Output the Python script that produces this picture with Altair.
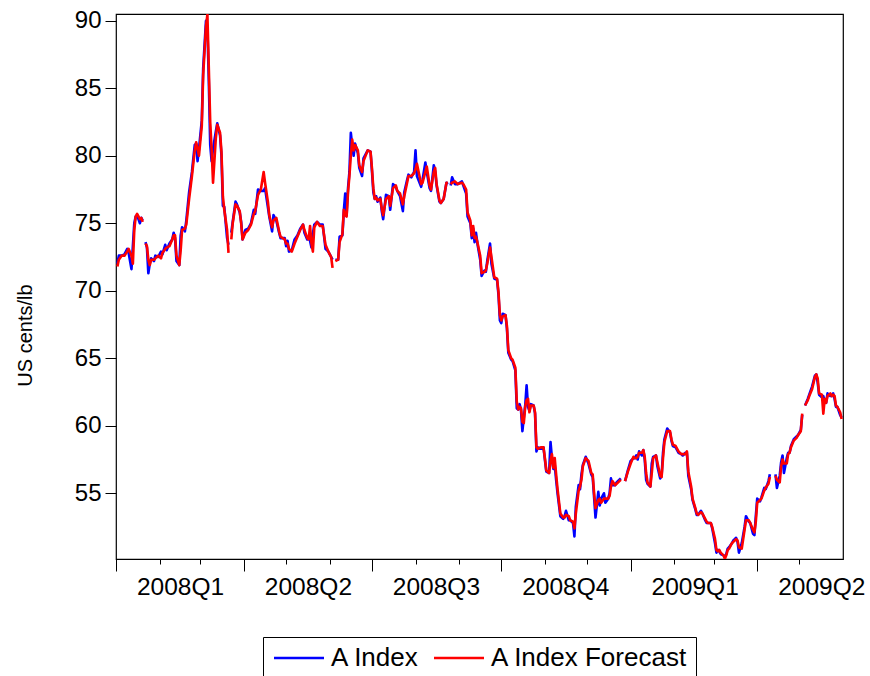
import altair as alt
import pandas as pd

# Cotlook A Index (US cents/lb) and its one-step-ahead forecast, daily quotes
dates = [
    # Jan 2008
    "2008-01-02", "2008-01-03", "2008-01-05", "2008-01-07", "2008-01-09", "2008-01-10", "2008-01-12",
    "2008-01-13", "2008-01-14", "2008-01-15", "2008-01-16", "2008-01-18", "2008-01-19", "2008-01-20",
    # late Jan - Mar 2008
    "2008-01-22", "2008-01-23", "2008-01-24", "2008-01-25", "2008-01-26", "2008-01-28", "2008-01-29",
    "2008-01-31", "2008-02-02", "2008-02-03", "2008-02-05", "2008-02-06", "2008-02-08", "2008-02-10",
    "2008-02-11", "2008-02-12", "2008-02-13", "2008-02-15", "2008-02-16", "2008-02-17", "2008-02-19",
    "2008-02-20", "2008-02-22", "2008-02-24", "2008-02-26", "2008-02-27", "2008-02-28", "2008-02-29",
    "2008-03-02", "2008-03-03", "2008-03-05", "2008-03-06", "2008-03-07", "2008-03-08", "2008-03-09",
    "2008-03-10", "2008-03-12", "2008-03-13", "2008-03-15", "2008-03-16", "2008-03-17", "2008-03-18",
    "2008-03-20", "2008-03-21",
    # late Mar - early Jun 2008
    "2008-03-23", "2008-03-24", "2008-03-26", "2008-03-27", "2008-03-29", "2008-03-30", "2008-03-31",
    "2008-04-02", "2008-04-04", "2008-04-06", "2008-04-08", "2008-04-09", "2008-04-11", "2008-04-13",
    "2008-04-15", "2008-04-16", "2008-04-18", "2008-04-19", "2008-04-21", "2008-04-22", "2008-04-24",
    "2008-04-26", "2008-04-27", "2008-04-30", "2008-05-01", "2008-05-02", "2008-05-03", "2008-05-05",
    "2008-05-07", "2008-05-09", "2008-05-11", "2008-05-13", "2008-05-14", "2008-05-16", "2008-05-17",
    "2008-05-18", "2008-05-19", "2008-05-20", "2008-05-21", "2008-05-23", "2008-05-25", "2008-05-27",
    "2008-05-29", "2008-05-31", "2008-06-02", "2008-06-03",
    # Jun - Aug 2008
    "2008-06-05", "2008-06-07", "2008-06-08", "2008-06-10", "2008-06-11", "2008-06-12", "2008-06-13",
    "2008-06-14", "2008-06-15", "2008-06-16", "2008-06-17", "2008-06-18", "2008-06-19", "2008-06-21",
    "2008-06-22", "2008-06-24", "2008-06-25", "2008-06-28", "2008-06-30", "2008-07-01", "2008-07-02",
    "2008-07-03", "2008-07-04", "2008-07-05", "2008-07-07", "2008-07-08", "2008-07-09", "2008-07-11",
    "2008-07-13", "2008-07-14", "2008-07-16", "2008-07-18", "2008-07-19", "2008-07-21", "2008-07-23",
    "2008-07-24", "2008-07-26", "2008-07-27", "2008-07-29", "2008-07-31", "2008-08-01", "2008-08-02",
    "2008-08-05", "2008-08-06", "2008-08-08", "2008-08-09", "2008-08-11", "2008-08-12", "2008-08-14",
    "2008-08-15", "2008-08-16", "2008-08-18", "2008-08-19", "2008-08-21", "2008-08-23", "2008-08-24",
    # late Aug - Dec 2008
    "2008-08-26", "2008-08-27", "2008-08-29", "2008-08-31", "2008-09-03", "2008-09-04", "2008-09-06",
    "2008-09-07", "2008-09-09", "2008-09-10", "2008-09-11", "2008-09-12", "2008-09-13", "2008-09-14",
    "2008-09-16", "2008-09-17", "2008-09-19", "2008-09-20", "2008-09-21", "2008-09-23", "2008-09-24",
    "2008-09-26", "2008-09-28", "2008-09-29", "2008-09-30", "2008-10-01", "2008-10-02", "2008-10-04",
    "2008-10-05", "2008-10-06", "2008-10-08", "2008-10-09", "2008-10-11", "2008-10-12", "2008-10-13",
    "2008-10-14", "2008-10-15", "2008-10-16", "2008-10-17", "2008-10-18", "2008-10-19", "2008-10-20",
    "2008-10-21", "2008-10-22", "2008-10-24", "2008-10-25", "2008-10-26", "2008-10-27", "2008-10-29",
    "2008-10-31", "2008-11-01", "2008-11-02", "2008-11-04", "2008-11-05", "2008-11-06", "2008-11-07",
    "2008-11-08", "2008-11-09", "2008-11-10", "2008-11-12", "2008-11-14", "2008-11-15", "2008-11-16",
    "2008-11-18", "2008-11-19", "2008-11-21", "2008-11-22", "2008-11-23", "2008-11-25", "2008-11-26",
    "2008-11-27", "2008-11-28", "2008-11-30", "2008-12-02", "2008-12-04", "2008-12-05", "2008-12-06",
    "2008-12-07", "2008-12-09", "2008-12-10", "2008-12-11", "2008-12-13", "2008-12-14", "2008-12-16",
    "2008-12-17", "2008-12-18", "2008-12-19", "2008-12-21", "2008-12-22", "2008-12-24", "2008-12-25",
    # late Dec 2008 - early Apr 2009
    "2008-12-28", "2008-12-30", "2009-01-01", "2009-01-03", "2009-01-04", "2009-01-05", "2009-01-06",
    "2009-01-07", "2009-01-09", "2009-01-10", "2009-01-11", "2009-01-12", "2009-01-13", "2009-01-15",
    "2009-01-16", "2009-01-17", "2009-01-19", "2009-01-20", "2009-01-22", "2009-01-23", "2009-01-24",
    "2009-01-25", "2009-01-27", "2009-01-29", "2009-01-30", "2009-01-31", "2009-02-02", "2009-02-04",
    "2009-02-06", "2009-02-07", "2009-02-09", "2009-02-10", "2009-02-11", "2009-02-13", "2009-02-14",
    "2009-02-16", "2009-02-17", "2009-02-18", "2009-02-20", "2009-02-21", "2009-02-23", "2009-02-24",
    "2009-02-25", "2009-02-27", "2009-02-28", "2009-03-02", "2009-03-03", "2009-03-04", "2009-03-05",
    "2009-03-06", "2009-03-08", "2009-03-09", "2009-03-10", "2009-03-11", "2009-03-12", "2009-03-14",
    "2009-03-15", "2009-03-16", "2009-03-17", "2009-03-18", "2009-03-19", "2009-03-21", "2009-03-23",
    "2009-03-24", "2009-03-26", "2009-03-27", "2009-03-29", "2009-03-30", "2009-03-31", "2009-04-01",
    "2009-04-03", "2009-04-04", "2009-04-06", "2009-04-07", "2009-04-09", "2009-04-10",
    # mid Apr - early May 2009
    "2009-04-14", "2009-04-15", "2009-04-17", "2009-04-18", "2009-04-19", "2009-04-20", "2009-04-22",
    "2009-04-23", "2009-04-24", "2009-04-25", "2009-04-27", "2009-04-29", "2009-04-30", "2009-05-02",
    "2009-05-03",
    # May 2009
    "2009-05-05", "2009-05-07", "2009-05-08", "2009-05-10", "2009-05-12", "2009-05-13", "2009-05-14",
    "2009-05-15", "2009-05-17", "2009-05-18", "2009-05-19", "2009-05-20", "2009-05-21", "2009-05-23",
    "2009-05-24", "2009-05-25", "2009-05-26", "2009-05-27", "2009-05-28", "2009-05-30", "2009-05-31",
]

a_index = [
    72.0, 72.6, 72.6, 72.7, 73.1, 72.8, 71.6, 73.3, 75.0, 75.5, 75.6, 75.0, 75.4, 75.2,
    73.6, 73.2, 71.3, 72.0, 72.4, 72.2, 72.6, 72.5, 72.9, 72.7, 73.4, 73.0, 73.5, 73.8,
    74.3, 73.9, 72.2, 71.9, 74.1, 74.7, 74.4, 75.2, 77.3, 78.8, 80.8, 80.9, 79.6, 80.5,
    82.6, 86.5, 90.0, 89.5, 85.5, 80.8, 79.6, 80.5, 81.8, 82.4, 81.5, 80.0, 76.3, 76.2,
    73.9, 73.4,
    74.3, 75.1, 76.6, 76.4, 75.8, 75.1, 73.8, 74.5, 74.6, 75.0, 76.0, 75.7, 77.5, 77.4,
    77.4, 77.6, 76.2, 75.5, 74.4, 75.6, 75.2, 74.3, 73.9, 73.9, 73.3, 73.7, 72.9, 73.0,
    73.8, 74.1, 74.6, 74.9, 74.3, 73.8, 74.0, 73.7, 73.2, 74.2, 74.9, 75.1, 74.9, 74.9,
    73.1, 72.9, 72.5, 72.3,
    72.3, 72.3, 74.0, 74.1, 75.9, 77.2, 75.6, 77.6, 78.8, 81.7, 80.7, 80.0, 80.9, 80.2,
    79.1, 78.5, 79.8, 80.4, 80.3, 78.9, 77.3, 76.8, 77.0, 76.6, 76.9, 75.9, 75.3, 77.1,
    77.0, 76.0, 77.9, 77.7, 77.4, 77.0, 75.9, 77.3, 78.2, 78.6, 78.4, 78.8, 80.4, 78.5,
    77.7, 78.2, 79.5, 78.8, 77.6, 77.4, 79.3, 78.8, 77.8, 76.6, 76.5, 76.8, 78.0, 77.9,
    77.8, 78.4, 77.9, 77.9, 78.1, 77.8, 77.2, 75.5, 75.0, 73.9,
    74.6, 73.6, 74.3, 73.5, 72.3, 71.1, 71.5, 71.4, 72.2, 73.5,
    72.0, 70.9, 70.8, 69.7, 67.8, 67.6, 68.3, 68.2, 67.2, 65.4,
    64.9, 64.8, 64.1, 61.3, 61.2, 61.6, 61.2, 59.6, 60.6, 61.5,
    63.0, 61.4, 61.1, 61.6, 61.5, 60.9, 58.1, 58.4, 58.3, 58.4,
    57.5, 56.6, 56.5, 58.8, 57.6, 56.8, 57.1, 56.0, 55.0, 53.3,
    53.1, 53.3, 53.7, 53.0, 53.0, 52.8, 51.8, 54.0, 55.6, 55.3,
    56.4, 57.1, 57.7, 57.2, 56.4, 56.2, 54.7, 53.2, 55.1, 54.1,
    54.6, 55.0, 54.3, 54.6, 55.0, 56.1, 55.6, 55.6, 55.8, 56.0, 56.1,
    55.9, 56.7, 57.4, 57.6, 57.6, 57.8, 57.5, 58.1, 57.8, 58.2,
    57.5, 56.0, 55.7, 55.5, 57.2, 57.7, 57.8, 57.0, 56.1, 56.3,
    58.0, 59.0, 59.8, 59.5, 58.9, 58.5, 58.4, 58.0, 57.9, 57.8,
    58.0, 58.0, 56.3, 55.3, 54.5, 53.8, 53.4, 53.4, 53.7, 53.5,
    53.0, 52.8, 52.8, 52.8, 52.4, 51.3, 50.6, 50.8, 50.7, 50.5,
    50.4, 50.3, 50.5, 50.9, 51.0, 51.3, 51.5, 51.6, 51.7, 51.4,
    50.6, 51.3, 52.5, 53.3, 52.9, 52.8, 52.0, 51.9, 53.3, 54.6,
    54.4, 54.7, 55.4, 55.3, 55.9, 56.4,
    56.4, 55.4, 56.3, 57.3, 57.8, 56.5, 57.6, 58.0, 58.0, 58.5, 59.0, 59.2, 59.3, 59.7,
    60.8,
    61.5, 62.0, 62.3, 62.9, 63.7, 63.8, 63.2, 62.3, 62.1, 62.2, 61.8, 61.7, 62.4, 62.2,
    62.2, 62.4, 62.0, 61.4, 61.4, 60.8, 60.6,
]

a_index_forecast = [
    71.8, 72.3, 72.6, 72.6, 72.9, 73.1, 72.6, 72.0, 74.5, 75.5, 75.7, 75.3, 75.4, 75.1,
    73.5, 73.3, 72.3, 71.9, 72.3, 72.3, 72.4, 72.6, 72.4, 72.8, 73.1, 73.2, 73.3, 73.8,
    74.1, 74.1, 72.6, 71.9, 73.0, 74.5, 74.6, 74.9, 76.8, 78.5, 80.4, 81.0, 80.5, 80.0,
    82.2, 86.0, 89.6, 90.45, 86.5, 82.5, 80.5, 78.0, 81.3, 82.3, 81.7, 80.3, 77.0, 76.0,
    74.5, 72.8,
    73.8, 75.0, 76.4, 76.3, 75.9, 75.0, 73.8, 74.3, 74.5, 74.9, 75.7, 75.9, 77.1, 77.5,
    78.8, 78.0, 76.6, 75.6, 74.7, 75.2, 75.4, 74.4, 74.0, 73.8, 73.5, 73.5, 73.1, 72.9,
    73.5, 74.0, 74.5, 74.9, 74.5, 73.9, 73.8, 74.8, 73.5, 72.9, 74.7, 75.1, 74.8, 74.8,
    73.4, 72.9, 72.5, 71.7,
    72.2, 72.3, 73.6, 74.2, 76.0, 75.6, 75.5, 77.3, 78.5, 80.0, 81.2, 80.4, 80.8, 80.4,
    79.3, 78.8, 79.6, 80.4, 80.3, 79.1, 77.6, 76.8, 76.9, 76.7, 76.8, 76.1, 75.6, 76.8,
    77.0, 76.3, 77.6, 77.8, 77.4, 77.2, 76.4, 77.0, 78.0, 78.5, 78.5, 78.7, 79.0, 79.4,
    77.9, 78.0, 78.8, 79.2, 77.8, 77.5, 78.8, 79.1, 77.9, 76.7, 76.5, 76.8, 78.0, 78.0,
    77.9, 78.0, 78.1, 77.9, 78.0, 77.9, 77.5, 75.8, 75.2, 74.1,
    74.8, 73.9, 74.0, 73.6, 72.6, 71.3, 71.4, 71.5, 72.0, 73.2,
    72.5, 71.0, 70.9, 69.9, 68.2, 67.8, 68.1, 68.2, 67.4, 65.6,
    65.0, 64.9, 64.3, 61.8, 61.2, 61.4, 61.3, 60.3, 60.2, 61.4,
    61.9, 62.0, 61.0, 61.5, 61.5, 61.0, 58.4, 58.3, 58.4, 58.4,
    57.6, 56.7, 56.5, 57.4, 57.9, 56.9, 57.6, 56.4, 55.3, 53.5,
    53.2, 53.2, 53.4, 53.3, 53.0, 52.9, 52.4, 53.5, 55.2, 55.5,
    56.0, 57.0, 57.6, 57.4, 56.5, 56.4, 55.0, 53.9, 54.5, 54.6,
    54.3, 54.6, 54.6, 54.6, 54.8, 55.5, 55.9, 55.6, 55.7, 55.9, 56.0,
    55.9, 56.6, 57.2, 57.7, 57.6, 57.6, 57.7, 58.0, 58.0, 58.2,
    57.7, 56.5, 55.8, 55.5, 56.5, 57.6, 57.8, 57.3, 56.3, 56.2,
    57.6, 58.8, 59.6, 59.6, 59.0, 58.6, 58.5, 58.1, 57.9, 57.9,
    57.9, 58.1, 56.6, 55.5, 54.6, 53.9, 53.5, 53.4, 53.6, 53.5,
    53.1, 52.9, 52.8, 52.8, 52.5, 51.6, 50.8, 50.7, 50.8, 50.6,
    50.4, 50.15, 50.4, 50.8, 50.9, 51.3, 51.4, 51.5, 51.6, 51.5,
    51.0, 50.9, 52.3, 53.0, 53.0, 52.8, 52.3, 52.1, 52.9, 54.3,
    54.5, 54.6, 55.2, 55.4, 55.7, 56.2,
    56.3, 56.0, 55.8, 57.0, 57.5, 57.2, 57.2, 57.9, 58.0, 58.4, 58.9, 59.1, 59.3, 59.6,
    60.9,
    61.5, 61.9, 62.2, 62.7, 63.6, 63.8, 63.5, 62.4, 62.3, 60.9, 62.0, 61.7, 62.2, 62.4,
    62.2, 62.3, 62.2, 61.5, 61.4, 61.0, 60.5,
]

# days with no quote: the lines are broken there
breaks = ["2008-01-21", "2008-03-22", "2008-06-04", "2008-08-25",
          "2008-12-26", "2009-04-13", "2009-05-04"]

series_names = ["A Index", "A Index Forecast"]
series_colors = ["#0000FF", "#FF0000"]
y_ticks = [55, 60, 65, 70, 75, 80, 85, 90]
y_range = [50.13, 90.5]

assert len(dates) == len(a_index) == len(a_index_forecast)

FONT = "Liberation Sans"

stamps = pd.to_datetime(dates)
segment = [sum(int(s > pd.Timestamp(b)) for b in breaks) for s in stamps]


def series_frame(name, values):
    return pd.DataFrame({"date": dates, "value": values, "series": name, "segment": segment})


month_ticks = [alt.DateTime(year=yr, month=mo, date=1, utc=True)
               for yr, mo in [(2008, m) for m in range(1, 13)] + [(2009, m) for m in range(1, 6)]]

x_axis = alt.Axis(
    values=month_ticks,
    domain=False, grid=False,
    tickColor="black", tickWidth=1,
    tickSize={"condition": {"test": "utcmonth(datum.value) % 3 === 0", "value": 12}, "value": 5},
    labelExpr="utcmonth(datum.value) % 3 === 0 ? utcyear(datum.value) + 'Q' + (floor(utcmonth(datum.value) / 3) + 1) : ''",
    labelOffset=64, labelAlign="center", labelBaseline="top",
    labelFlush=False, labelOverlap=False, labelBound=False,
    labelFont=FONT, labelFontSize=24.5, labelColor="black", labelPadding=4,
)

y_axis = alt.Axis(
    values=y_ticks,
    domain=False, grid=False,
    tickColor="black", tickWidth=1, tickSize=11,
    labelFont=FONT, labelFontSize=24, labelColor="black", labelPadding=4,
    titleFont=FONT, titleFontSize=20, titleFontWeight="normal", titleColor="black",
    titleX=-91, titleY=321, titleAngle=270, titleAlign="center", titleBaseline="middle",
)

# legend key: a 50 px horizontal stroke drawn to the right of the symbol anchor
legend = alt.Legend(
    title=None, orient="none", legendX=147, legendY=623,
    direction="horizontal", columns=2,
    symbolType="M-1,0H4", symbolSize=400, symbolStrokeWidth=2.6,
    symbolFillColor="transparent",
    labelFont=FONT, labelFontSize=26, labelColor="black", labelLimit=400,
    labelOffset=34, columnPadding=8, padding=8,
    strokeColor="black", fillColor="white",
)

x_enc = alt.X(
    "date:T", title=None,
    scale=alt.Scale(type="utc", nice=False,
                    domain=[alt.DateTime(year=2008, month=1, date=1, utc=True),
                            alt.DateTime(year=2009, month=6, date=1, utc=True)]),
    axis=x_axis,
)
y_enc = alt.Y("value:Q", title="US cents/lb",
              scale=alt.Scale(domain=y_range, nice=False, zero=False), axis=y_axis)
color_enc = alt.Color("series:N", scale=alt.Scale(domain=series_names, range=series_colors),
                      legend=legend)


def series_line(frame):
    return alt.Chart(frame).mark_line(strokeWidth=2.6, clip=True, strokeJoin="round").encode(
        x=x_enc, y=y_enc, color=color_enc, detail="segment:N"
    )


chart = alt.layer(
    series_line(series_frame(series_names[0], a_index)),
    series_line(series_frame(series_names[1], a_index_forecast)),
).properties(
    width=727, height=545,
    padding={"left": 116, "top": 14, "right": 27, "bottom": 117},
    autosize=alt.AutoSizeParams(type="none"),
    background="white",
).configure_view(stroke="black", strokeWidth=1.2)

chart.save("out.html", embed_options={"renderer": "svg", "actions": False})
